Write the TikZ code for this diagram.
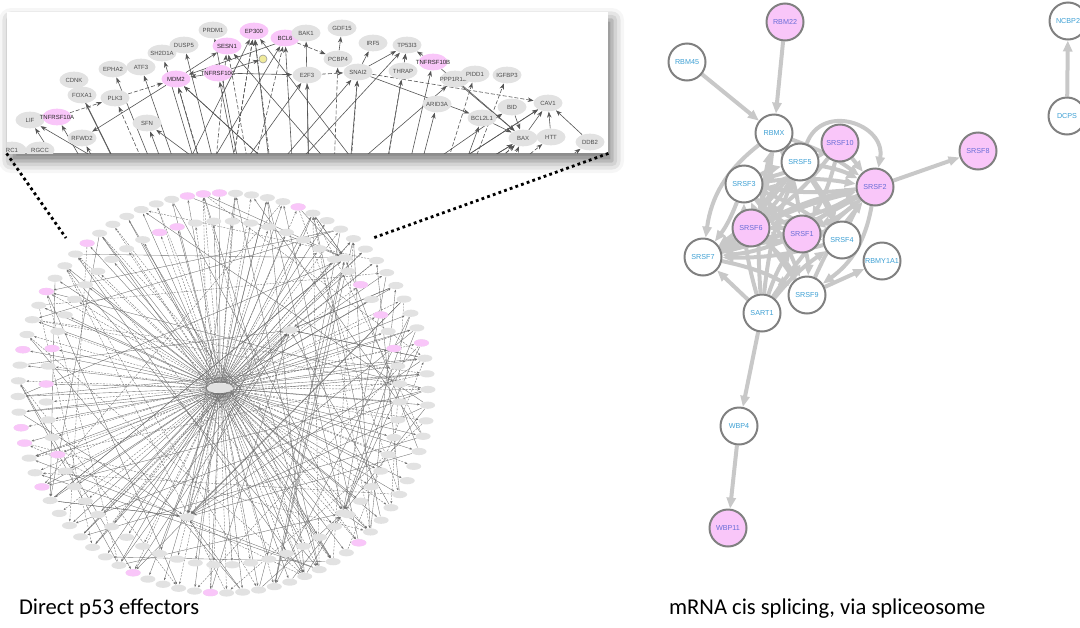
\documentclass[tikz,border=0pt]{standalone}
\usepackage{fontspec}
\setmainfont{Carlito}
\newfontfamily\netfont{Liberation Sans}
\usetikzlibrary{arrows.meta,positioning,backgrounds,shadows.blur,shapes.geometric}
\definecolor{hitpink}{RGB}{249,198,249}
\definecolor{nodegray}{RGB}{226,226,226}
\definecolor{rimgray}{RGB}{128,128,128}
\definecolor{edgegray}{RGB}{200,200,200}
\definecolor{labelblue}{RGB}{62,160,212}
\definecolor{hitblue}{RGB}{105,110,215}
\definecolor{wiregray}{RGB}{85,85,85}
\tikzset{
  znode/.style={ellipse, fill=nodegray, inner sep=0pt, minimum width=14.5pt,
                minimum height=8.3pt, text=black!70,
                font=\netfont\fontsize{3}{3}\selectfont},
  zhit/.style ={znode, fill=hitpink, text=black!85},
  zedge/.style={draw=wiregray, line width=0.3pt, -{Stealth[length=3pt,width=2.2pt]}},
  zdash/.style={zedge, dash pattern=on 2pt off 1pt},
  rnode/.style={ellipse, fill=nodegray, inner sep=0pt, minimum width=7.5pt,
                minimum height=3.6pt},
  rhit/.style ={rnode, fill=hitpink},
  redge/.style={draw=wiregray!85, line width=0.18pt, -{Stealth[length=1.4pt,width=1pt]}},
  rdash/.style={redge, dash pattern=on 1pt off 0.6pt},
  snode/.style={circle, draw=rimgray, line width=1pt, fill=white,
                minimum size=18.5pt, inner sep=0pt, text=labelblue,
                font=\netfont\fontsize{3.6}{4}\selectfont},
  shit/.style ={snode, fill=hitpink, text=hitblue},
  sedge/.style={draw=edgegray, line width=2pt, -{Triangle[length=5.5pt,width=4.5pt]}},
  zoomline/.style={line width=1.4pt, dash pattern=on 1.4pt off 1.6pt},
  caption/.style={font=\fontsize{11.3}{13}\selectfont, anchor=base west},
}
\newcommand{\glab}[1]{\makebox[0pt]{#1}}

\begin{document}
\begin{tikzpicture}[x=0.5pt, y=-0.5pt,
   inset/.style={rectangle, fill=white, inner sep=0pt,
                 blur shadow={shadow xshift=2pt, shadow yshift=-4pt,
                              shadow blur radius=6pt, shadow opacity=55}}]
  \useasboundingbox (0,0) rectangle (1080,627);

  % ---- zoomed inset of the top of the p53 circle ---------------------------
  \begin{scope}[on background layer]
    \node[inset, minimum width=300.5pt, minimum height=70.5pt] (zoom) at (307.5,82.5) {};
  \end{scope}

  \begin{scope}
    \clip (zoom.south west) rectangle (zoom.north east);
    \node[znode] (prdm1)     at (213,30)  {\glab{PRDM1}};
    \node[zhit]  (ep300)     at (254,31)  {\glab{EP300}};
    \node[zhit]  (bcl6)      at (285,38)  {\glab{BCL6}};
    \node[znode] (bak1)      at (306,33)  {\glab{BAK1}};
    \node[znode] (gdf15)     at (342,28)  {\glab{GDF15}};
    \node[znode] (dusp5)     at (184,45)  {\glab{DUSP5}};
    \node[zhit]  (sesn1)     at (227,46)  {\glab{SESN1}};
    \node[znode] (sh2d1a)    at (162,53)  {\glab{SH2D1A}};
    \node[znode] (irf5)      at (373,43)  {\glab{IRF5}};
    \node[znode] (tp53i3)    at (407,45)  {\glab{TP53I3}};
    \node[znode] (pcbp4)     at (338,59)  {\glab{PCBP4}};
    \node[zhit]  (tnfrsf10b) at (433,62)  {\glab{TNFRSF10B}};
    \node[znode] (epha2)     at (113,69)  {\glab{EPHA2}};
    \node[znode] (atf3)      at (141,67)  {\glab{ATF3}};
    \node[zhit]  (mdm2)      at (176,79)  {\glab{MDM2}};
    \node[zhit]  (tnfrsf10c) at (218,73)  {\glab{TNFRSF10C}};
    \node[znode] (e2f3)      at (307,75)  {\glab{E2F3}};
    \node[znode] (snai2)     at (358,72)  {\glab{SNAI2}};
    \node[znode] (thrap)     at (403,71)  {\glab{THRAP}};
    \node[znode] (ppp1r13b)  at (455,79)  {\glab{PPP1R13B}};
    \node[znode] (pidd1)     at (475,74)  {\glab{PIDD1}};
    \node[znode] (igfbp3)    at (507,75)  {\glab{IGFBP3}};
    \node[znode] (cdnk)      at (74,80)   {\glab{CDNK}};
    \node[znode] (foxa1)     at (82,95)   {\glab{FOXA1}};
    \node[znode] (plk3)      at (115,98)  {\glab{PLK3}};
    \node[znode] (arid3a)    at (437,104) {\glab{ARID3A}};
    \node[znode] (bid)       at (512,107) {\glab{BID}};
    \node[znode] (cav1)      at (548,103) {\glab{CAV1}};
    \node[znode] (lif)       at (30,120)  {\glab{LIF}};
    \node[zhit]  (tnfrsf10a) at (57,117)  {\glab{TNFRSF10A}};
    \node[znode] (sfn)       at (147,123) {\glab{SFN}};
    \node[znode] (bcl2l1)    at (482,118) {\glab{BCL2L1}};
    \node[znode] (rfwd2)     at (82,138)  {\glab{RFWD2}};
    \node[znode] (rgcc)      at (40,150)  {\glab{RGCC}};
    \node[znode] (rc1)       at (12,150)  {\glab{RC1}};
    \node[znode] (bax)       at (523,138) {\glab{BAX}};
    \node[znode] (htt)       at (551,137) {\glab{HTT}};
    \node[znode] (ddb2)      at (590,142) {\glab{DDB2}};
    \node[circle, draw=black!40, fill=yellow!35!nodegray, line width=0.3pt,
          minimum size=4pt, inner sep=0pt] (ydot) at (263,59) {};
  \end{scope}

  \coordinate (zhub) at (316,570);
  \coordinate (zbl)  at (60,420);
  \coordinate (zbr)  at (560,430);
  \coordinate (zbm)  at (190,430);

  \begin{scope}[on background layer]
  \begin{scope}
    \clip (zoom.south west) rectangle (zoom.north east);
    \foreach \t in {sh2d1a,atf3,epha2,mdm2,tnfrsf10c,ep300,bcl6,bak1,e2f3,snai2,
                    thrap,tnfrsf10b,arid3a,bcl2l1,sfn,lif,tnfrsf10a,rfwd2,prdm1,
                    dusp5,rgcc,foxa1,cdnk}
      \draw[zedge] (zhub) -- (\t);
    \foreach \t in {sesn1,pcbp4,ep300,snai2,igfbp3,pidd1,plk3,tp53i3,mdm2,bax}
      \draw[zdash] ([xshift=2pt]zhub) -- (\t);
    \foreach \t in {ep300,bcl6,e2f3,snai2,tp53i3,bax,bid,cav1,ppp1r13b,bax,cav1}
      \draw[zedge] (zbl) -- (\t);
    \foreach \t in {mdm2,ep300,sesn1,lif,rgcc,sfn,mdm2}
      \draw[zedge] (zbr) -- (\t);
    \foreach \t in {ep300,ep300,sesn1,bcl6,bax,bax,htt,ddb2}
      \draw[zdash] (zbm) -- (\t);
    \draw[zedge] (tnfrsf10c) -- (mdm2);
    \draw[zedge] (tnfrsf10c) -- (e2f3);
    \draw[zdash] (e2f3) -- (snai2);
    \draw[zdash] (plk3) -- (mdm2);
    \draw[zdash] (tnfrsf10a) -- (plk3);
    \draw[zedge] (mdm2) -- (sesn1);
    \draw[zedge] (mdm2) -- (rfwd2);
    \draw[zdash] (bcl6) -- (pcbp4);
    \draw[zedge] (pcbp4) -- (gdf15);
    \draw[zedge] (snai2) -- (irf5);
    \draw[zedge] (snai2) -- (tp53i3);
    \draw[zedge] (thrap) -- (tp53i3);
    \draw[zedge] (tnfrsf10b) -- (tp53i3);
    \draw[zdash] (snai2) -- (cav1);
    \draw[zedge] (snai2) -- (bcl2l1);
    \draw[zedge] (tnfrsf10b) -- (bax);
    \draw[zedge] (bcl2l1) -- (bax);
    \draw[zedge] (ppp1r13b) -- (bax);
    \draw[zedge] (bid) -- (bax);
    \draw[zedge] (htt) -- (cav1);
    \draw[zedge] (bax) -- (cav1);
    \draw[zedge] (ddb2) -- (cav1);
    \draw[zedge] (bak1) -- (mdm2);
    \draw[zedge] (tnfrsf10c) -- (ydot);
  \end{scope}
  \end{scope}

  % ---- the full p53 effector circle ---------------------------------------
  \node[rnode, minimum width=12.5pt, minimum height=5pt] (hub) at (220,388) {};
  \foreach \i in {0,...,79} {
    \pgfmathsetmacro{\ang}{4.5*\i+1}
    \node[rnode] (o\i) at ({223+205*cos(\ang)},{393-200*sin(\ang)}) {};
  }
  \foreach \i in {0,...,59} {
    \pgfmathsetmacro{\ang}{6*\i+3}
    \node[rnode] (i\i) at ({223+177*cos(\ang)},{393-172*sin(\ang)}) {};
  }
  % the pink hits sit on top of their ring places
  \foreach \i in {3,15,20,21,22,29,33,37,42,43,46,54,59,69} {
    \pgfmathsetmacro{\ang}{4.5*\i+1}
    \node[rhit] (op\i) at ({223+205*cos(\ang)},{393-200*sin(\ang)}) {};
  }
  \foreach \i in {2,4,6,17,18,27,29,33} {
    \pgfmathsetmacro{\ang}{6*\i+3}
    \node[rhit] (ip\i) at ({223+177*cos(\ang)},{393-172*sin(\ang)}) {};
  }
  \node[rnode] (h1) at (345,258) {};
  \node[rnode] (h2) at (343,513) {};
  \node[rnode] (h3) at (187,517) {};
  \node[rnode] (h4) at (290,330) {};

  \begin{scope}[on background layer]
    \pgfmathsetseed{4213}
    \foreach \i in {0,...,79} {
      \pgfmathtruncatemacro{\m}{mod(\i,3)}
      \ifnum\m=0 \draw[rdash] (hub) -- (o\i); \else \draw[redge] (hub) -- (o\i); \fi
    }
    \foreach \i in {0,...,59} {
      \pgfmathtruncatemacro{\m}{mod(\i,2)}
      \ifnum\m=0 \draw[rdash] (hub) -- (i\i); \else \draw[redge] (hub) -- (i\i); \fi
    }
    \foreach \k in {1,...,70} {
      \pgfmathrandominteger{\u}{0}{79}
      \pgfmathrandominteger{\d}{14}{66}
      \pgfmathtruncatemacro{\v}{mod(\u+\d,80)}
      \pgfmathtruncatemacro{\m}{mod(\k,2)}
      \ifnum\m=0 \draw[rdash] (o\u) -- (o\v); \else \draw[redge] (o\u) -- (o\v); \fi
    }
    \foreach \h in {h1,h2,h3,h4} {
      \foreach \k in {1,...,12} {
        \pgfmathrandominteger{\u}{0}{79}
        \draw[redge] (o\u) -- (\h);
      }
    }
  \end{scope}

  % ---- mRNA cis splicing network -------------------------------------------
  \node[shit]  (rbm22)  at (785,22)  {RBM22};
  \node[snode] (rbm45)  at (687,62)  {RBM45};
  \node[snode] (rbmx)   at (774,133) {RBMX};
  \node[shit]  (srsf10) at (840,143) {SRSF10};
  \node[snode] (srsf5)  at (800,162) {SRSF5};
  \node[shit]  (srsf8)  at (978,151) {SRSF8};
  \node[snode] (srsf3)  at (744,184) {SRSF3};
  \node[shit]  (srsf2)  at (875,187) {SRSF2};
  \node[shit]  (srsf6)  at (751,228) {SRSF6};
  \node[shit]  (srsf1)  at (802,234) {SRSF1};
  \node[snode] (srsf4)  at (842,240) {SRSF4};
  \node[snode] (srsf7)  at (703,257) {SRSF7};
  \node[snode] (rbmy)   at (882,261) {RBMY1A1};
  \node[snode] (srsf9)  at (807,295) {SRSF9};
  \node[snode] (sart1)  at (762,313) {SART1};
  \node[snode] (wbp4)   at (739,426) {WBP4};
  \node[shit]  (wbp11)  at (728,528) {WBP11};
  \node[snode] (ncbp2)  at (1068,21) {NCBP2};
  \node[snode] (dcps)   at (1067,116) {DCPS};

  \begin{scope}[on background layer]
    \draw[sedge] (rbm22) -- (rbmx);
    \draw[sedge] (rbm45) -- (rbmx);
    \draw[sedge] (srsf2) -- (srsf8);
    \draw[sedge] (dcps) -- (ncbp2);
    \draw[sedge] (sart1) -- (wbp4);
    \draw[sedge] (wbp4) -- (wbp11);
    \draw[sedge] (sart1) -- (srsf7);
    \draw[sedge] (srsf9) -- (rbmy);
    \draw[sedge] (srsf10) -- (srsf2);
    \draw[sedge] (srsf5) to[out=70,in=80,looseness=1.5] (srsf2);
    \draw[sedge] (rbmx) to[bend right=22] (srsf7);
    \draw[sedge] (srsf2) to[bend left=22] (srsf9);
    \foreach \a/\b in {srsf5/srsf2, srsf3/srsf2, srsf6/srsf2, srsf1/srsf2,
                       srsf4/srsf2, srsf7/srsf2, rbmx/srsf2, srsf9/srsf2,
                       sart1/srsf2, srsf3/srsf7, srsf6/srsf7, srsf1/srsf7,
                       srsf5/srsf7, srsf2/srsf7, srsf4/srsf7, srsf7/srsf9,
                       srsf7/srsf4, srsf7/srsf1, sart1/srsf1, sart1/srsf3,
                       sart1/rbmx, sart1/srsf5, sart1/srsf4, srsf1/srsf3,
                       srsf4/srsf3, srsf2/srsf3, srsf5/srsf6, srsf10/srsf6,
                       srsf10/srsf3, srsf10/srsf1, srsf2/srsf6, srsf2/srsf1,
                       srsf5/srsf4, srsf3/srsf4, srsf6/srsf4, rbmx/srsf4,
                       rbmx/srsf1, rbmx/srsf6, srsf1/srsf9, srsf6/srsf9,
                       srsf3/srsf9, srsf9/srsf3, srsf3/srsf5, srsf6/srsf5}
      \draw[sedge] (\a) to[bend left=8] (\b);
  \end{scope}

  % ---- links from the inset down to the circle, and the captions ----------
  \coordinate (zoomL) at (66,238);
  \coordinate (zoomR) at (373,238);
  \draw[zoomline] (zoom.south west) -- (zoomL);
  \draw[zoomline] (zoom.south east) -- (zoomR);

  \node[caption] (capL) at (12,614)  {Direct p53 effectors};
  \node[caption] (capR) at (662,614) {mRNA cis splicing, via spliceosome};
\end{tikzpicture}
\end{document}
